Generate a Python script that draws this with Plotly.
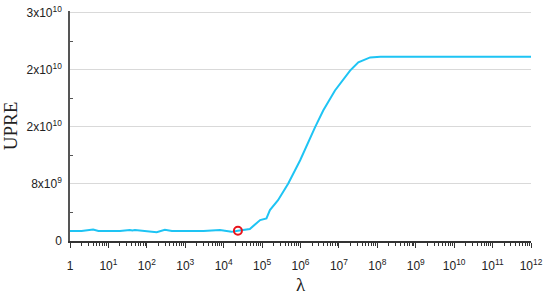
import plotly.graph_objects as go

# UPRE curve
lam = [1, 2, 4, 5.5, 10, 20, 36, 42, 49, 80, 180, 295, 450, 1e3, 3e3, 8e3, 1.1e4,
       1.6e4, 2.35e4, 4.8e4, 8.9e4, 1.3e5, 1.6e5, 2.6e5, 4.8e5, 9.8e5, 2.4e6, 3.9e6,
       7.9e6, 1.95e7, 3.2e7, 6.5e7, 1.2e8, 1e9, 1e12]
upre = [1.30e9, 1.30e9, 1.50e9, 1.32e9, 1.30e9, 1.32e9, 1.45e9, 1.38e9, 1.45e9, 1.33e9,
        1.15e9, 1.48e9, 1.32e9, 1.30e9, 1.30e9, 1.45e9, 1.30e9,
        1.20e9, 1.35e9, 1.57e9, 2.75e9, 2.97e9, 4.06e9, 5.36e9, 7.55e9, 1.06e10,
        1.495e10, 1.714e10, 1.976e10, 2.237e10, 2.346e10, 2.411e10, 2.42e10, 2.42e10, 2.42e10]

# chosen lambda marker
best_lam = [2.35e4]
best_upre = [1.35e9]

x_tickvals = [10**i for i in range(13)]
x_ticktext = ["1"] + ["10<sup>%d</sup>" % i for i in range(1, 13)]
x_minor = [m * 10**i for i in range(12) for m in range(2, 10)]

y_tickvals = [0, 7.5e9, 1.5e10, 2.25e10, 3e10]
y_ticktext = ["0", "8x10<sup>9</sup>", "2x10<sup>10</sup>", "2x10<sup>10</sup>", "3x10<sup>10</sup>"]
y_minor = [3.75e9, 1.125e10, 1.875e10, 2.625e10]

fig = go.Figure()
fig.add_trace(go.Scatter(x=lam, y=upre, mode="lines",
                         line=dict(color="#1ec4f4", width=2)))
fig.add_trace(go.Scatter(x=best_lam, y=best_upre, mode="markers",
                         marker=dict(symbol="circle-open", size=8, color="#e8141c",
                                     line=dict(width=2, color="#e8141c"))))

fig.update_layout(
    width=550, height=296,
    margin=dict(l=70, r=19, t=11, b=55),
    paper_bgcolor="white", plot_bgcolor="white",
    showlegend=False,
    font=dict(family="Liberation Sans", size=12, color="#222"),
)
fig.update_xaxes(
    type="log", range=[0, 12], automargin=False,
    tickmode="array", tickvals=x_tickvals, ticktext=x_ticktext,
    ticks="outside", ticklen=5, tickwidth=1, tickcolor="#333",
    minor=dict(tickmode="array", tickvals=x_minor, ticks="outside", ticklen=3,
               tickwidth=1, tickcolor="#333", showgrid=False),
    showgrid=False, showline=True, linecolor="#333", linewidth=1.5,
    ticklabelstandoff=8, ticklabeloverflow="allow",
    zeroline=False,
)
fig.update_yaxes(
    range=[0, 3.02e10], automargin=False,
    tickmode="array", tickvals=y_tickvals, ticktext=y_ticktext,
    ticks="", showgrid=True, gridcolor="#d9d9d9", gridwidth=1,
    minor=dict(tickmode="array", tickvals=y_minor, ticks="inside", ticklen=3,
               tickcolor="#555", showgrid=False),
    showline=True, linecolor="#555", linewidth=1.5,
    ticklabelstandoff=4, ticklabeloverflow="allow",
    title=dict(text="UPRE", font=dict(family="Liberation Serif", size=19, color="#222"),
               standoff=7),
    zeroline=False,
)
fig.add_annotation(text="λ", xref="paper", yref="paper", x=0.5, y=0,
                   yanchor="middle", yshift=-43, showarrow=False,
                   font=dict(family="Liberation Serif", size=19, color="#222"))

# drop the page's default body margin so the figure sits at the window corner
fig.write_html("out.html", config={"displayModeBar": False},
               post_script="document.body.style.margin='0';")
